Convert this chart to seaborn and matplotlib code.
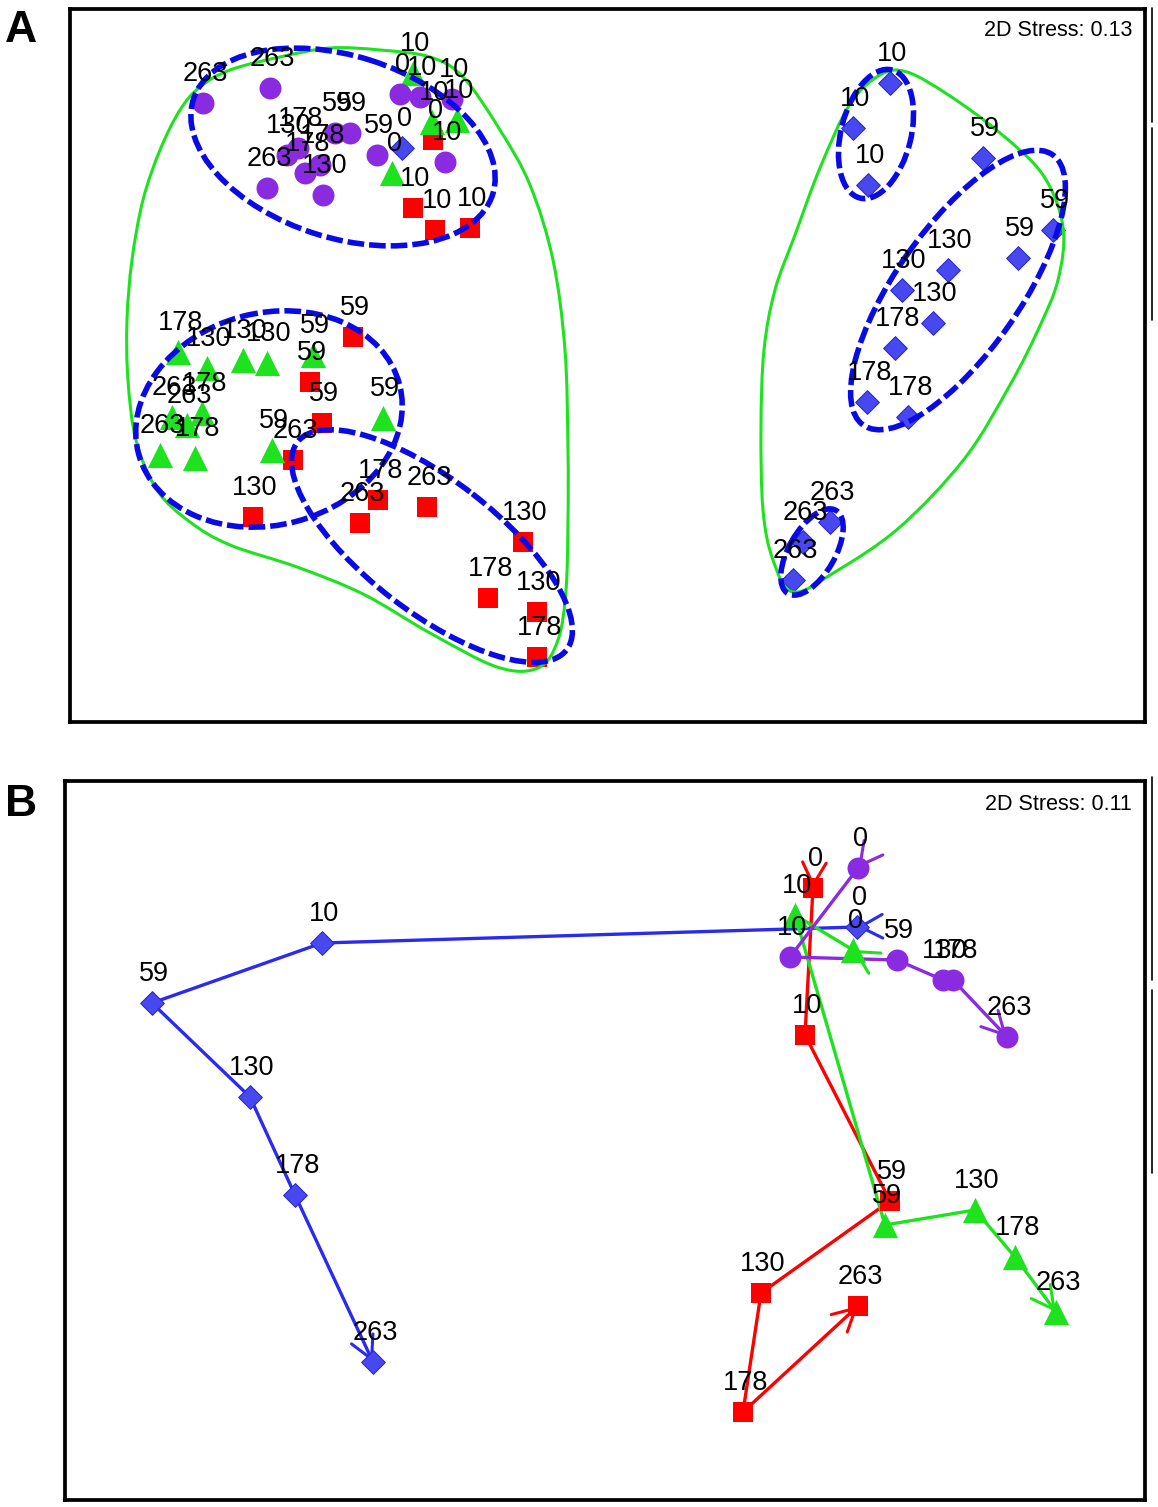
"""NMDS ordination: clusters (A) and group trajectories (B)."""

import numpy as np
import pandas as pd
import matplotlib.pyplot as plt
import seaborn as sns
from matplotlib.path import Path
from matplotlib.patches import PathPatch, Ellipse
from matplotlib.lines import Line2D

# ---------------- data (ordination coordinates) ----------------
# Panel A
a_purple_x = [203, 270, 267, 287, 298, 305, 320, 323, 335, 350, 377, 400, 420, 452, 445]
a_purple_y = [103, 88, 188, 155, 148, 173, 165, 195, 133, 133, 155, 94, 97, 99, 162]
a_purple_lab = ["263", "263", "263", "130", "178", "178", "178", "130", "59", "59", "59", "0", "10", "10", "10"]

a_green_x = [413, 432, 457, 392, 178, 207, 243, 267, 313, 383, 272, 172, 187, 160, 202, 195]
a_green_y = [73, 122, 120, 173, 352, 368, 360, 363, 355, 418, 450, 417, 425, 455, 413, 458]
a_green_lab = ["10", "10", "10", "0", "178", "130", "130", "130", "59", "59", "59",
               "263", "263", "263", "178", "178"]

a_red_x = [433, 413, 435, 470, 353, 310, 322, 293, 360, 427, 253, 523, 537, 378, 488, 537]
a_red_y = [140, 208, 230, 228, 337, 382, 423, 460, 523, 507, 517, 542, 612, 500, 598, 657]
a_red_lab = ["0", "10", "10", "10", "59", "59", "59", "263", "263", "263",
             "130", "130", "130", "178", "178", "178"]

a_blue_x = [402, 890, 853, 868, 983, 1053, 1018, 948, 902, 933, 895, 867, 908, 830, 803, 793]
a_blue_y = [148, 83, 128, 185, 158, 230, 258, 270, 290, 323, 348, 402, 417, 522, 542, 580]
a_blue_lab = ["0", "10", "10", "10", "59", "59", "59", "130", "130", "130",
              "178", "178", "178", "263", "263", "263"]

# cluster contours in panel A (dashed ellipses: centre x, centre y, width, height, angle)
ell_cx = [343, 269, 432, 876, 958, 812]
ell_cy = [147, 419, 546, 134, 290, 552]
ell_w = [314, 270, 340, 132, 330, 96]
ell_h = [182, 212, 132, 70, 124, 46]
ell_ang = [17.6, -15, 37.7, -76, -55, -60]

# solid outer contours in panel A (outline points)
hull_left = [(180, 110), (200, 87), (230, 70), (280, 57), (330, 48), (380, 50), (430, 57),
             (463, 77), (500, 130), (530, 185), (553, 260), (565, 350), (568, 450),
             (568, 520), (566, 590), (558, 640), (538, 668), (497, 667), (430, 633),
             (363, 594), (297, 567), (230, 545), (190, 522), (157, 490), (136, 440),
             (128, 380), (127, 320), (132, 260), (143, 200), (160, 150)]
hull_right = [(793, 592), (773, 560), (763, 510), (761, 427), (764, 350), (775, 290),
              (795, 235), (820, 168), (850, 104), (880, 75), (907, 72), (950, 96),
              (1000, 133), (1043, 175), (1063, 227), (1058, 280), (1038, 330),
              (1010, 385), (965, 458), (900, 527), (835, 572)]

# Panel B: trajectories over sampling days
days = ["0", "10", "59", "130", "178", "263"]
b_purple_x = [858, 790, 897, 943, 953, 1007]
b_purple_y = [868, 957, 960, 980, 980, 1037]
b_blue_x = [857, 322, 152, 250, 295, 373]
b_blue_y = [927, 943, 1003, 1097, 1195, 1362]
b_red_x = [813, 805, 890, 761, 743, 858]
b_red_y = [888, 1035, 1201, 1293, 1412, 1306]
b_green_x = [853, 795, 885, 975, 1015, 1056]
b_green_y = [950, 915, 1225, 1210, 1257, 1312]

# ---------------- style ----------------
PURPLE = "#8a2be2"
GREEN = "#1fe21f"
RED = "#ff0000"
BLUE = "#4848f0"
BLUE_EDGE = "#2b2bd0"
DASH = "#0a0ae6"
LINE_BLUE = "#2a2af0"

sns.set_style("white")
plt.rcParams["font.family"] = ["Liberation Sans", "DejaVu Sans"]
plt.rcParams["text.color"] = "black"

W, H = 1158, 1507
fig = plt.figure(figsize=(W / 100, H / 100), dpi=100)


def px_axes(left, top, right, bottom):
    ax = fig.add_axes([left / W, 1 - bottom / H, (right - left) / W, (bottom - top) / H])
    ax.set_xlim(left, right)
    ax.set_ylim(bottom, top)
    ax.set_xticks([])
    ax.set_yticks([])
    for s in ax.spines.values():
        s.set_visible(True)
        s.set_linewidth(2.7)
        s.set_color("black")
    return ax


def smooth_closed(pts):
    pts = np.asarray(pts, float)
    n = len(pts)
    verts = [pts[0]]
    codes = [Path.MOVETO]
    for i in range(n):
        p0, p1, p2, p3 = pts[i - 1], pts[i], pts[(i + 1) % n], pts[(i + 2) % n]
        verts += [p1 + (p2 - p0) / 6, p2 - (p3 - p1) / 6, p2]
        codes += [Path.CURVE4] * 3
    return Path(verts, codes)


def markers(ax, x, y, marker, color, size, edge=None):
    sns.scatterplot(x=np.array(x), y=np.array(y), marker=marker, s=size, color=color,
                    edgecolor=edge if edge else color, linewidth=0.8 if edge else 0,
                    ax=ax, zorder=3, legend=False)


def labels(ax, x, y, labs):
    for xi, yi, t in zip(x, y, labs):
        ax.annotate(t, (xi, yi), xytext=(1.5, 16), textcoords="offset points",
                    ha="center", va="baseline", fontsize=19.5, color="black", zorder=6)


def arrow_head(ax, tip, frm, color):
    tip = np.asarray(tip, float)
    d = tip - np.asarray(frm, float)
    d = d / np.hypot(*d)
    ax.annotate("", xy=tip, xytext=tip - 2 * d,
                arrowprops=dict(arrowstyle="->,head_length=1.6,head_width=0.85",
                                color=color, lw=2.2, shrinkA=0, shrinkB=0),
                zorder=2.5)


# ---------------- panel A ----------------
axA = px_axes(70, 8.5, 1145, 722)

markers(axA, a_red_x, a_red_y, "s", RED, 200)
markers(axA, a_green_x, a_green_y, "^", GREEN, 330)
markers(axA, a_purple_x, a_purple_y, "o", PURPLE, 250)
markers(axA, a_blue_x, a_blue_y, "D", BLUE, 145, BLUE_EDGE)

for hull in (hull_left, hull_right):
    axA.add_patch(PathPatch(smooth_closed(hull), fill=False, edgecolor=GREEN, lw=2.2, zorder=4))
for cx, cy, w, h, a in zip(ell_cx, ell_cy, ell_w, ell_h, ell_ang):
    axA.add_patch(Ellipse((cx, cy), w, h, angle=a, fill=False, edgecolor=DASH, lw=4.0,
                          linestyle=(0, (3.0, 0.9)), zorder=4))

labels(axA, a_red_x, a_red_y, a_red_lab)
labels(axA, a_green_x, a_green_y, a_green_lab)
labels(axA, a_purple_x, a_purple_y, a_purple_lab)
labels(axA, a_blue_x, a_blue_y, a_blue_lab)

axA.text(1132, 36, "2D Stress: 0.13", ha="right", va="baseline", fontsize=15.5,
         color="black", zorder=6)

# ---------------- panel B ----------------
axB = px_axes(65, 781, 1145, 1500)

traj = [
    (b_blue_x, b_blue_y, LINE_BLUE, "D", BLUE, 145, BLUE_EDGE),
    (b_red_x, b_red_y, RED, "s", RED, 200, None),
    (b_green_x, b_green_y, GREEN, "^", GREEN, 330, None),
    (b_purple_x, b_purple_y, PURPLE, "o", PURPLE, 250, None),
]
for x, y, lc, mk, fc, sz, ec in traj:
    df = pd.DataFrame({"x": x, "y": y, "day": days})
    sns.lineplot(data=df, x="x", y="y", sort=False, estimator=None, color=lc, lw=2.4,
                 ax=axB, zorder=2, legend=False)
    arrow_head(axB, (x[0], y[0]), (x[0] - (x[1] - x[0]), y[0] - (y[1] - y[0])), lc)
    arrow_head(axB, (x[-1], y[-1]), (x[-2], y[-2]), lc)
for x, y, lc, mk, fc, sz, ec in traj:
    markers(axB, x, y, mk, fc, sz, ec)
    labels(axB, x, y, days)

axB.set_xlabel("")
axB.set_ylabel("")
axB.text(1132, 810, "2D Stress: 0.11", ha="right", va="baseline", fontsize=15.5,
         color="black", zorder=6)

# panel letters
fig.text(5 / W, 1 - 42 / H, "A", fontsize=32, fontweight="bold", ha="left", va="baseline",
         color="black")
fig.text(5 / W, 1 - 816 / H, "B", fontsize=32, fontweight="bold", ha="left", va="baseline",
         color="black")

# thin vertical rules at the right margin
for y0, y1 in [(8, 122), (128, 320), (777, 980), (990, 1173)]:
    fig.add_artist(Line2D([1152 / W, 1152 / W], [1 - y0 / H, 1 - y1 / H],
                          transform=fig.transFigure, color="black", lw=1.2))

fig.savefig("out.png", dpi=100)
